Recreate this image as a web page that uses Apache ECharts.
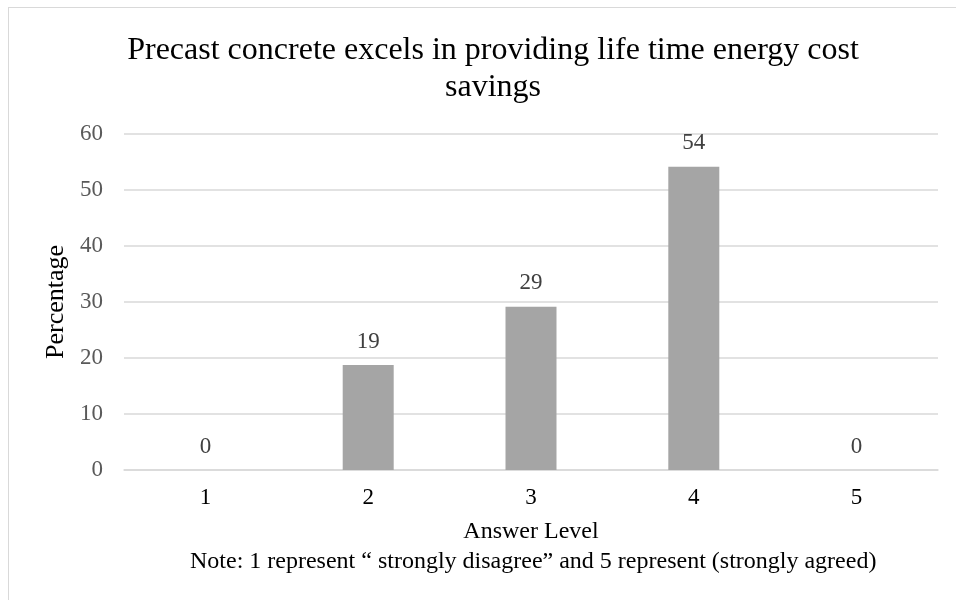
<!DOCTYPE html>
<html>
<head>
<meta charset="utf-8">
<script src="https://cdn.jsdelivr.net/npm/echarts@6/dist/echarts.min.js"></script>
<style>
  html, body { margin: 0; padding: 0; background: #fff; overflow: hidden; }
  .frame {
    position: absolute;
    left: 8px;
    top: 7px;
    width: 1000px;
    height: 700px;
    border: 1px solid #d9d9d9;
    box-sizing: border-box;
  }
  #chart { position: absolute; left: 0; top: 0; width: 956px; height: 600px; }
</style>
</head>
<body>
<div class="frame"></div>
<div id="chart"></div>
<script>
// 数据
var categories = ["1", "2", "3", "4", "5"];
var values = [0, 18.75, 29.17, 54.17, 0];
var yTicks = { min: 0, max: 60, interval: 10 };

var font = "'Liberation Serif', 'DejaVu Serif', serif";

var myChart = echarts.init(document.getElementById("chart"));
var option = {
  animation: false,
  title: {
    text: "Precast concrete excels in providing life time energy cost\nsavings",
    left: 488,
    top: 27,
    textAlign: "center",
    textStyle: {
      fontFamily: font,
      fontSize: 32,
      fontWeight: "normal",
      color: "#000",
      lineHeight: 37,
    },
  },
  grid: {
    left: 124,
    right: 18,
    top: 134,
    bottom: 130,
  },
  xAxis: {
    type: "category",
    data: categories,
    name: "Answer Level",
    nameLocation: "middle",
    nameGap: 50,
    nameTextStyle: { fontFamily: font, fontSize: 24, color: "#000" },
    axisTick: { show: false },
    axisLine: { lineStyle: { color: "#d9d9d9", width: 1.5 } },
    axisLabel: {
      margin: 16,
      fontFamily: font,
      fontSize: 23,
      color: "#000",
    },
  },
  yAxis: {
    type: "value",
    min: yTicks.min,
    max: yTicks.max,
    interval: yTicks.interval,
    name: "Percentage",
    nameLocation: "middle",
    nameGap: 51,
    nameTextStyle: { fontFamily: font, fontSize: 26, color: "#000" },
    axisLine: { show: false },
    axisTick: { show: false },
    axisLabel: {
      margin: 21,
      fontFamily: font,
      fontSize: 23,
      color: "#595959",
    },
    splitLine: {
      show: true,
      lineStyle: { color: "#d9d9d9", width: 1.5 },
    },
  },
  graphic: [
    {
      type: "text",
      left: 190,
      top: 550,
      style: {
        text: "Note: 1 represent \u201c strongly disagree\u201d and 5 represent (strongly agreed)",
        font: "24px " + font,
        fill: "#000",
      },
    },
  ],
  series: [
    {
      type: "bar",
      data: values,
      barWidth: 51,
      itemStyle: { color: "#a5a5a5" },
      label: {
        show: true,
        position: "top",
        distance: 12,
        fontFamily: font,
        fontSize: 23,
        color: "#404040",
        formatter: function (p) {
          return Math.round(p.value);
        },
      },
    },
  ],
};
myChart.setOption(option, true);
</script>
</body>
</html>
